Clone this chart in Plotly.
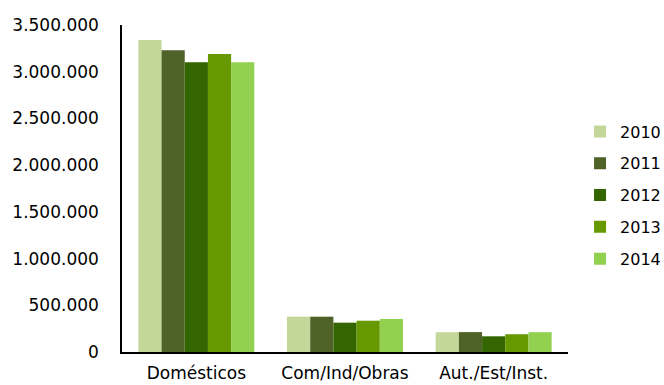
import plotly.graph_objects as go

categories = ["Domésticos", "Com/Ind/Obras", "Aut./Est/Inst."]
years = ["2010", "2011", "2012", "2013", "2014"]
values = {
    "2010": [3340000, 378000, 212000],
    "2011": [3230000, 378000, 213000],
    "2012": [3100000, 314000, 168000],
    "2013": [3190000, 335000, 190000],
    "2014": [3100000, 353000, 212000],
}
colors = ["#c4d79b", "#4f6228", "#336600", "#669900", "#92d050"]

fig = go.Figure()
for yr, c in zip(years, colors):
    fig.add_trace(go.Bar(x=categories, y=values[yr], name=yr, marker_color=c,
                         marker_line_width=0, legendgroup=yr))

font = "DejaVu Sans"
fig.update_layout(
    width=664, height=385,
    margin=dict(l=122, r=96, t=25, b=33, autoexpand=False),
    plot_bgcolor="white", paper_bgcolor="white",
    barmode="group", bargap=0.22, bargroupgap=0,
    separators=",.",
    font=dict(family=font, size=17, color="black"),
    legend=dict(x=1.027, xanchor="left", y=0.48, yanchor="middle",
                tracegroupgap=8, font=dict(size=16)),
    xaxis=dict(showline=True, linecolor="black", linewidth=2, ticks="",
               automargin=False, ticklabelstandoff=5, tickfont=dict(size=17)),
    yaxis=dict(range=[0, 3500000], dtick=500000, tickformat=",d",
               showgrid=False, zeroline=False, showline=True, linecolor="black",
               linewidth=1.5, ticks="", ticklabelstandoff=18, automargin=False,
               tickfont=dict(size=17)),
)
fig.write_html("out.html", config={"displayModeBar": False},
               post_script="document.body.style.margin='0';document.body.style.overflow='hidden';")
